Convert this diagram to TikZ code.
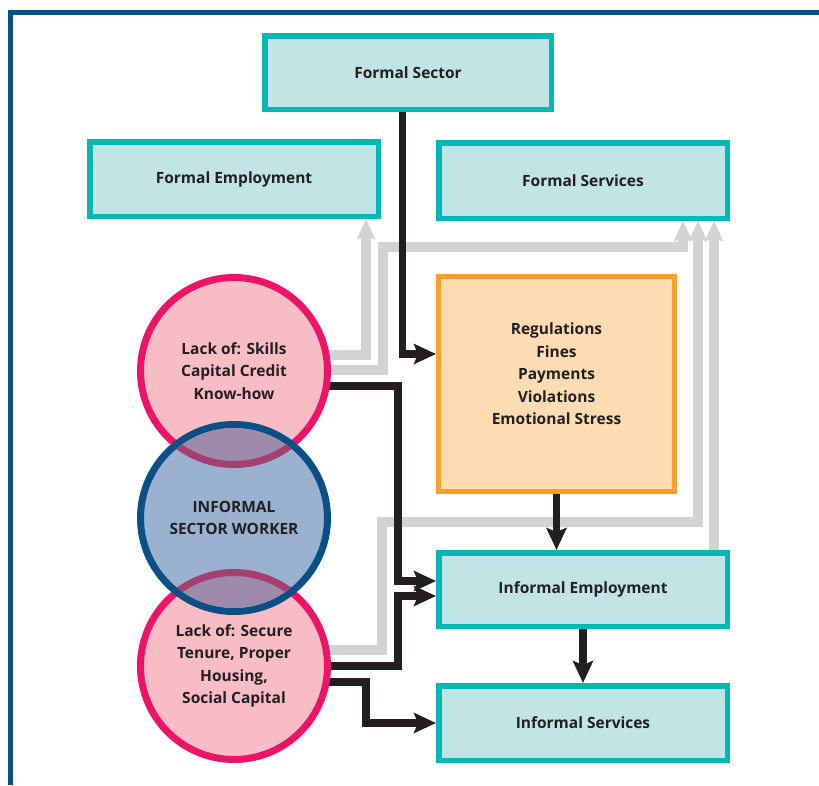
\documentclass[tikz,border=0pt]{standalone}
\usepackage{fontspec}
\setmainfont{Open Sans}
\usetikzlibrary{arrows.meta,calc}
\definecolor{tealS}{HTML}{00B9B2}
\definecolor{tealF}{HTML}{C1E4E4}
\definecolor{orgS}{HTML}{F7A12A}
\definecolor{orgF}{HTML}{FDDCB4}
\definecolor{pinkS}{HTML}{EC1467}
\definecolor{pinkF}{HTML}{F8BCC4}
\definecolor{blueS}{HTML}{0A4F85}
\definecolor{blueF}{HTML}{9AB1D0}
\definecolor{ovF}{HTML}{9E8AAA}
\definecolor{ovS}{HTML}{A3406F}
\definecolor{grayL}{HTML}{D1D3D4}
\definecolor{txt}{HTML}{231F20}
\pgfdeclarelayer{bg}
\pgfsetlayers{bg,main}
\tikzset{
  lbl/.style={font=\bfseries\fontsize{15.5}{22.5}\selectfont, text=txt, align=center, inner sep=0pt},
  tealbox/.style={lbl, draw=tealS, fill=tealF, line width=5.5pt, rectangle},
  orgbox/.style={lbl, draw=orgS, fill=orgF, line width=5pt, rectangle},
  pinkcirc/.style={lbl, circle, draw=pinkS, fill=pinkF, line width=7pt, minimum size=187pt},
  bluecirc/.style={lbl, circle, draw=blueS, fill=blueF, line width=7pt, minimum size=187pt},
  blk/.style={draw=txt, line width=7.5pt, -{Stealth[length=22pt,width=20pt,inset=4pt]}},
  gry/.style={draw=grayL, line width=10pt, -{Stealth[length=20pt,width=18pt,inset=3pt]}},
}
\begin{document}
\begin{tikzpicture}[x=1pt,y=-1pt]
\useasboundingbox (0,0) rectangle (819,785);
\draw[blueS, line width=5pt] (10.5,785) -- (10.5,12.5) -- (819,12.5);

% boxes
\node[tealbox, minimum width=286.5pt, minimum height=73.5pt] (fsec) at (408,72.5) {Formal Sector};
\node[tealbox, minimum width=288.5pt, minimum height=74.5pt] (femp) at (234,179) {Formal Employment};
\node[tealbox, minimum width=288.5pt, minimum height=75.5pt] (fserv) at (583,180.5) {Formal Services};
\node[orgbox, minimum width=236pt, minimum height=215pt] (reg) at (556.5,384) {};
\node[lbl] (regtxt) at ($(reg.center)+(0,-10)$) {Regulations\\Fines\\Payments\\Violations\\Emotional Stress};
\node[tealbox, minimum width=288.5pt, minimum height=73.5pt] (iemp) at (583,589.5) {Informal Employment};
\node[tealbox, minimum width=288.5pt, minimum height=74.5pt] (iserv) at (583,723) {Informal Services};

% circles
\node[pinkcirc] (topc) at (234,371) {Lack of: Skills\\Capital Credit\\Know-how};
\node[pinkcirc] (botc) at (234,666) {Lack of: Secure\\Tenure, Proper\\Housing,\\Social Capital};
\node[bluecirc] (midc) at (234,518) {INFORMAL\\SECTOR WORKER};
\begin{scope}
  \clip (midc.center) circle[radius=90pt];
  \draw[ovS, fill=ovF, line width=7pt] (topc.center) circle[radius=93.5pt];
  \draw[ovS, fill=ovF, line width=7pt] (botc.center) circle[radius=93.5pt];
\end{scope}

% connectors
\begin{pgfonlayer}{bg}
  \draw[gry] (topc.center |- 0,355) -- (366,355) -- (366,0 |- femp.south);
  \draw[gry] (topc.center |- 0,370) -- (383,370) -- (383,247) -- (683,247) -- (683,0 |- fserv.south);
  \draw[gry] (botc.center |- 0,650) -- (382,650) -- (382,522) -- (698,522) -- (698,0 |- fserv.south);
  \draw[gry] (714,0 |- iemp.north) -- (714,0 |- fserv.south);

  \draw[blk] (402.5,0 |- fsec.south) -- (402.5,354) -- (reg.west |- 0,354);
  \draw[blk] (topc.center |- 0,386) -- (398,386) -- (398,581) -- (iemp.west |- 0,581);
  \draw[blk] (botc.center |- 0,666) -- (398,666) -- (398,596) -- (iemp.west |- 0,596);
  \draw[blk] (botc.center |- 0,682) -- (366,682) -- (366,723) -- (iserv.west);
  \draw[blk] (reg.south) -- (reg.south |- iemp.north);
  \draw[blk] (iemp.south) -- (iserv.north);
\end{pgfonlayer}
\end{tikzpicture}
\end{document}
